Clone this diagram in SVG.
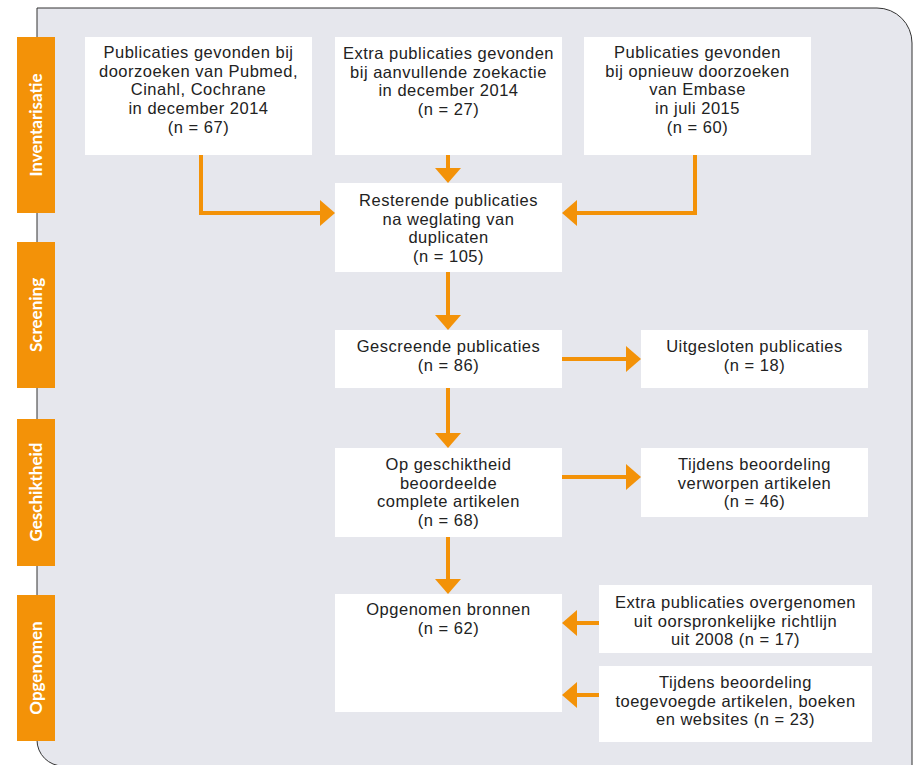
<svg xmlns="http://www.w3.org/2000/svg" width="915" height="765" viewBox="0 0 915 765">
<style>
.box{fill:#ffffff}
.tab{fill:#f39208}
.t{font-family:"Liberation Sans",Arial,sans-serif;font-size:16.5px;letter-spacing:0.5px;fill:#222222;text-anchor:middle}
.tt{font-family:Lato,"Noto Sans",sans-serif;font-size:17px;font-weight:bold;fill:#ffffff;text-anchor:middle}
.c{fill:none;stroke:#f39208;stroke-width:4;marker-end:url(#ah)}
</style>
<defs>
<marker id="ah" markerUnits="userSpaceOnUse" markerWidth="16" markerHeight="26" refX="0" refY="13" orient="auto">
<path d="M0,0 L15,13 L0,26 Z" fill="#f39208"/>
</marker>
</defs>
<rect width="915" height="765" fill="#ffffff"/>
<path id="panel" d="M37,8 H877 A35,35 0 0 1 912,43 V766 H63 A26,26 0 0 1 37,740 Z" fill="#e6e7ed" stroke="#333333" stroke-width="1"/>

<g id="tab-inventarisatie"><rect class="tab" x="17" y="37" width="38" height="176"/><text class="tt" transform="translate(42,125) rotate(-90)">Inventarisatie</text></g>
<g id="tab-screening"><rect class="tab" x="17" y="242" width="38" height="146"/><text class="tt" transform="translate(42,315) rotate(-90)">Screening</text></g>
<g id="tab-geschiktheid"><rect class="tab" x="17" y="419" width="38" height="147"/><text class="tt" transform="translate(42,492) rotate(-90)">Geschiktheid</text></g>
<g id="tab-opgenomen"><rect class="tab" x="17" y="595" width="38" height="146"/><text class="tt" transform="translate(42,668) rotate(-90)">Opgenomen</text></g>

<g id="connectors">
<polyline class="c" points="201,155 201,213 320,213"/>
<polyline class="c" points="448,155 448,168"/>
<polyline class="c" points="695,155 695,213 577,213"/>
<polyline class="c" points="448,272 448,315"/>
<polyline class="c" points="562,359 626,359"/>
<polyline class="c" points="448,388 448,433"/>
<polyline class="c" points="562,477 626,477"/>
<polyline class="c" points="448,537 448,579"/>
<polyline class="c" points="599,623 577,623"/>
<polyline class="c" points="599,695 577,695"/>
</g>

<g id="n1"><rect class="box" x="85" y="37" width="227" height="118"/>
<text class="t"><tspan x="198.5" y="58">Publicaties gevonden bij</tspan><tspan x="198.5" y="76.7">doorzoeken van Pubmed,</tspan><tspan x="198.5" y="95.4">Cinahl, Cochrane</tspan><tspan x="198.5" y="114.1">in december 2014</tspan><tspan x="198.5" y="132.8">(n = 67)</tspan></text></g>

<g id="n2"><rect class="box" x="335" y="37" width="227" height="118"/>
<text class="t"><tspan x="448.5" y="59">Extra publicaties gevonden</tspan><tspan x="448.5" y="77.7">bij aanvullende zoekactie</tspan><tspan x="448.5" y="96.4">in december 2014</tspan><tspan x="448.5" y="115.1">(n = 27)</tspan></text></g>

<g id="n3"><rect class="box" x="584" y="37" width="227" height="118"/>
<text class="t"><tspan x="697.5" y="58">Publicaties gevonden</tspan><tspan x="697.5" y="76.7">bij opnieuw doorzoeken</tspan><tspan x="697.5" y="95.4">van Embase</tspan><tspan x="697.5" y="114.1">in juli 2015</tspan><tspan x="697.5" y="132.8">(n = 60)</tspan></text></g>

<g id="n4"><rect class="box" x="335" y="183" width="227" height="89"/>
<text class="t"><tspan x="448.5" y="206">Resterende publicaties</tspan><tspan x="448.5" y="224.7">na weglating van</tspan><tspan x="448.5" y="243.4">duplicaten</tspan><tspan x="448.5" y="262.1">(n = 105)</tspan></text></g>

<g id="n5"><rect class="box" x="335" y="330" width="227" height="58"/>
<text class="t"><tspan x="448.5" y="352">Gescreende publicaties</tspan><tspan x="448.5" y="370.7">(n = 86)</tspan></text></g>

<g id="n6"><rect class="box" x="641" y="330" width="227" height="58"/>
<text class="t"><tspan x="754.5" y="352">Uitgesloten publicaties</tspan><tspan x="754.5" y="370.7">(n = 18)</tspan></text></g>

<g id="n7"><rect class="box" x="335" y="448" width="227" height="89"/>
<text class="t"><tspan x="448.5" y="470">Op geschiktheid</tspan><tspan x="448.5" y="488.7">beoordeelde</tspan><tspan x="448.5" y="507.4">complete artikelen</tspan><tspan x="448.5" y="526.1">(n = 68)</tspan></text></g>

<g id="n8"><rect class="box" x="641" y="448" width="227" height="69"/>
<text class="t"><tspan x="754.5" y="470">Tijdens beoordeling</tspan><tspan x="754.5" y="488.7">verworpen artikelen</tspan><tspan x="754.5" y="507.4">(n = 46)</tspan></text></g>

<g id="n9"><rect class="box" x="335" y="594" width="227" height="118"/>
<text class="t"><tspan x="448.5" y="615">Opgenomen bronnen</tspan><tspan x="448.5" y="633.7">(n = 62)</tspan></text></g>

<g id="n10"><rect class="box" x="599" y="585" width="273" height="68"/>
<text class="t"><tspan x="735.5" y="608">Extra publicaties overgenomen</tspan><tspan x="735.5" y="626.7">uit oorspronkelijke richtlijn</tspan><tspan x="735.5" y="645.4">uit 2008 (n = 17)</tspan></text></g>

<g id="n11"><rect class="box" x="599" y="666" width="273" height="76"/>
<text class="t"><tspan x="735.5" y="688">Tijdens beoordeling</tspan><tspan x="735.5" y="706.7">toegevoegde artikelen, boeken</tspan><tspan x="735.5" y="725.4">en websites (n = 23)</tspan></text></g>
</svg>
